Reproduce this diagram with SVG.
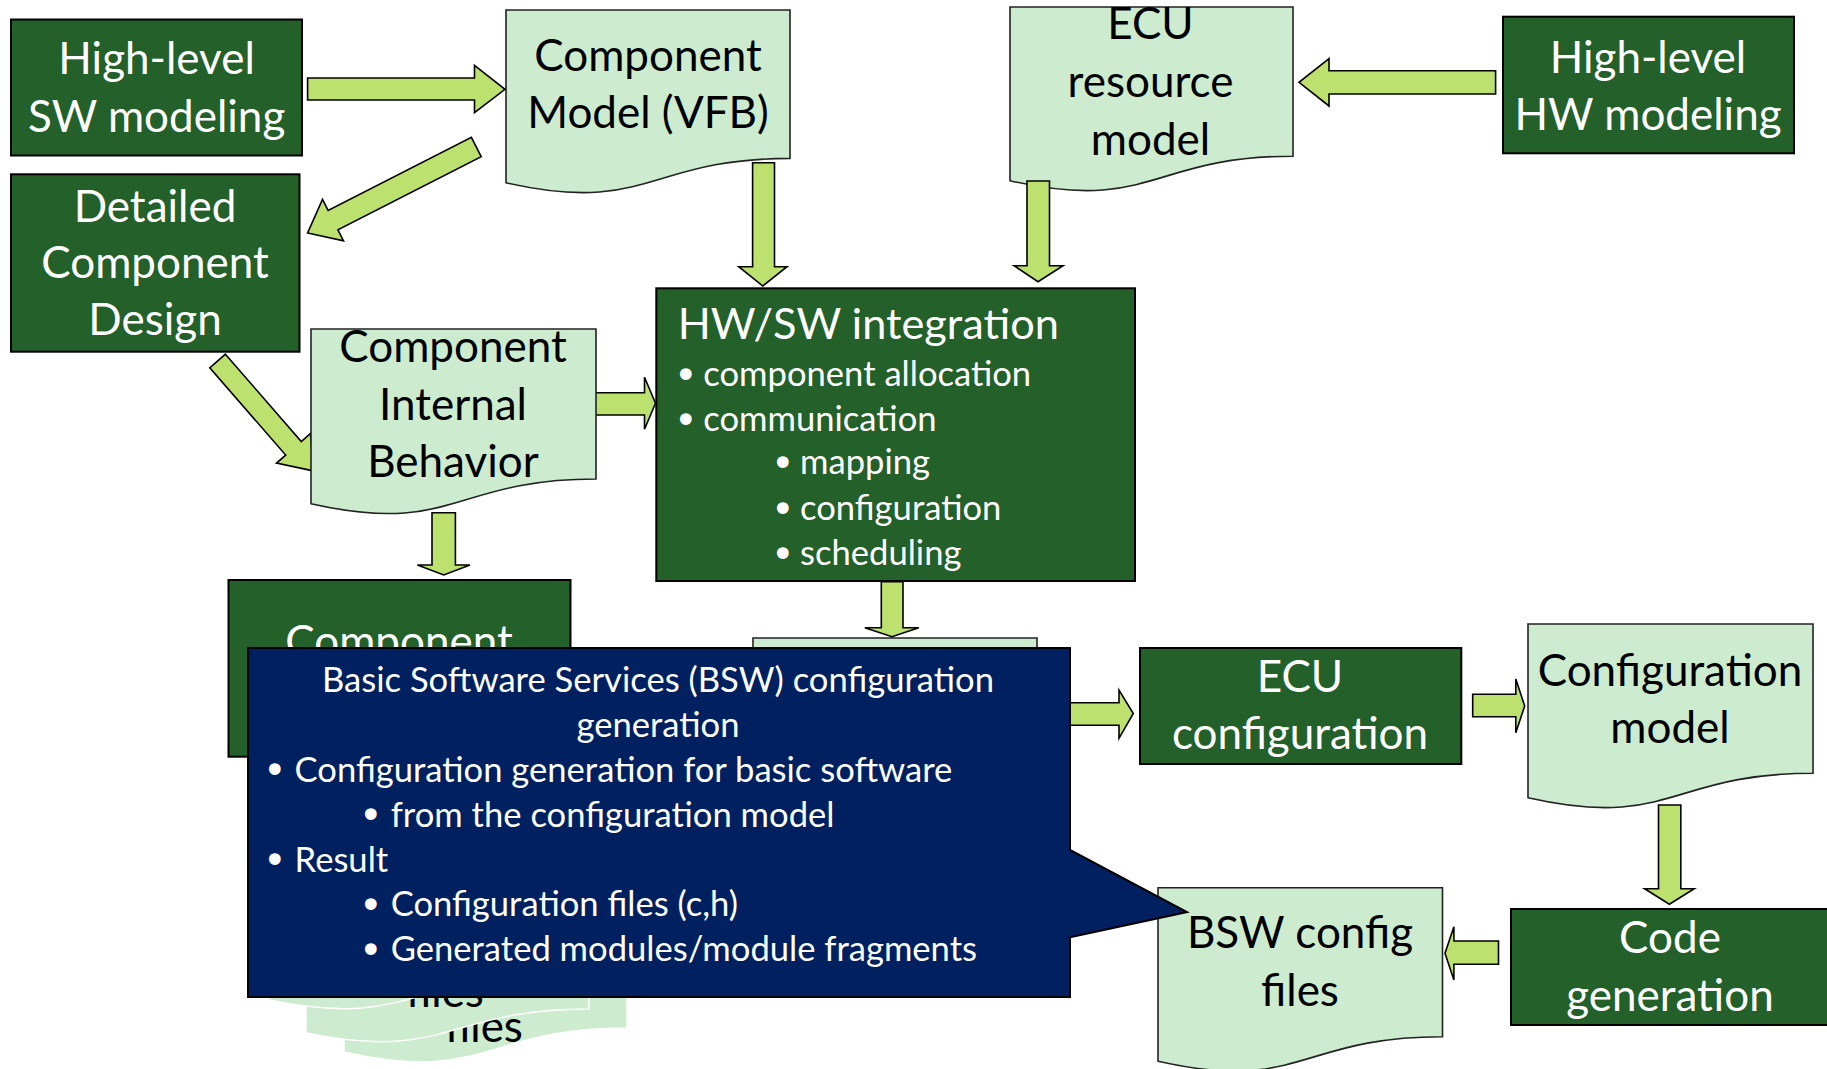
<svg xmlns="http://www.w3.org/2000/svg" width="1827" height="1069" viewBox="0 0 1827 1069">
<style>
.box{fill:#24602a;stroke:#000;stroke-width:2}
.doc{fill:#cdebcf;stroke:#222;stroke-width:1.6}
.sdoc{fill:#cdebcf;stroke:#fff;stroke-width:1.5}
.arr{fill:#bce16f;stroke:#000;stroke-width:1.6;stroke-linejoin:miter}
.call{fill:#002060;stroke:#000;stroke-width:2}
text{font-family:Lato,"Noto Sans",sans-serif}
.wt{fill:#fff;font-size:44px;text-anchor:middle}
.bt{fill:#000;font-size:44px;text-anchor:middle}
.ws{fill:#fff;font-size:34.6px}
.wc{fill:#fff;font-size:34.6px;text-anchor:middle}
.bu{fill:#fff;font-size:40px;font-family:"DejaVu Sans",sans-serif}
</style>
<rect width="1827" height="1069" fill="#fff"/>

<g id="hl-sw">
<rect class="box" x="11" y="19.5" width="291" height="136"/>
<text class="wt" x="156.6" y="74">High-level</text>
<text class="wt" x="156.6" y="131.7">SW modeling</text>
</g>

<g id="component-model">
<path class="doc" d="M506,10 H790 V158.4 C648,158.4 648,214.9 506,182.8 Z"/>
<text class="bt" x="648" y="71">Component</text>
<text class="bt" x="648" y="128">Model (VFB)</text>
</g>

<g id="ecu-resource">
<path class="doc" d="M1010,7 H1293 V156.2 C1151.5,156.2 1151.5,213 1010,180.7 Z"/>
<text class="bt" x="1150.5" y="39.3">ECU</text>
<text class="bt" x="1150.5" y="96.7">resource</text>
<text class="bt" x="1150.5" y="155">model</text>
</g>

<g id="hl-hw">
<rect class="box" x="1503" y="16.7" width="291" height="136.6"/>
<text class="wt" x="1648" y="72.7">High-level</text>
<text class="wt" x="1648" y="130">HW modeling</text>
</g>

<g id="detailed-design">
<rect class="box" x="11" y="174.3" width="288.5" height="177.4"/>
<text class="wt" x="155" y="221.7">Detailed</text>
<text class="wt" x="155" y="278.3">Component</text>
<text class="wt" x="155" y="335">Design</text>
</g>

<g id="hwsw-integration">
<rect class="box" x="656.3" y="288.3" width="478.7" height="292.7"/>
<text class="ws" x="677.7" y="339.3" style="font-size:43.3px">HW/SW integration</text>
<text class="bu" x="674" y="388.5">•</text><text class="ws" x="703.3" y="386">component allocation</text>
<text class="bu" x="674" y="433.5">•</text><text class="ws" x="703.3" y="431">communication</text>
<text class="bu" x="771" y="476.8">•</text><text class="ws" x="800" y="474.3">mapping</text>
<text class="bu" x="771" y="522.5">•</text><text class="ws" x="800" y="520">configuration</text>
<text class="bu" x="771" y="567.5">•</text><text class="ws" x="800" y="565">scheduling</text>
</g>

<g id="component-impl">
<rect class="box" x="228.5" y="580" width="342" height="176.7"/>
<text class="wt" x="399" y="657">Component</text>
</g>

<g id="bsw-doc">
<path class="doc" d="M753,638 H1037 V787 C895,787 895,844 753,812 Z"/>
</g>

<g id="ecu-config">
<rect class="box" x="1140" y="648" width="321.3" height="116"/>
<text class="wt" x="1300" y="691.7">ECU</text>
<text class="wt" x="1300" y="749.3">configuration</text>
</g>

<g id="config-model">
<path class="doc" d="M1528,624 H1813 V773.2 C1670.5,773.2 1670.5,830 1528,797.7 Z"/>
<text class="bt" x="1670" y="686">Configuration</text>
<text class="bt" x="1670" y="742.7">model</text>
</g>

<g id="code-generation">
<rect class="box" x="1511" y="909" width="318" height="116"/>
<text class="wt" x="1670" y="953.3">Code</text>
<text class="wt" x="1670" y="1010.7">generation</text>
</g>

<g id="bsw-config-files">
<path class="doc" d="M1158,887.7 H1442.5 V1036.7 C1300,1036.7 1300,1093.4 1158,1061.2 Z"/>
<text class="bt" x="1300" y="948.3">BSW config</text>
<text class="bt" x="1300" y="1006">files</text>
</g>

<g id="connectors">
<polygon class="arr" points="307.6,78 474.5,78 474.5,65.3 505,89.3 474.5,112.7 474.5,100 307.6,100"/>
<polygon class="arr" points="471.4,137.3 481.2,156.7 337.9,229.8 343.5,240.8 307.6,233 322.5,199.4 328.1,210.4"/>
<polygon class="arr" points="752.6,162.7 774.5,162.7 774.5,266.7 787,266.7 762.8,286 738.8,266.7 752.6,266.7"/>
<polygon class="arr" points="1027,181 1049.5,181 1049.5,265.7 1063,265.7 1038,281.7 1014,265.7 1027,265.7"/>
<polygon class="arr" points="1495.6,70.7 1329,70.7 1329,58.7 1299,82.3 1329,106 1329,94 1495.6,94"/>
<polygon class="arr" points="225.4,354.2 301.3,441.5 310.5,433.5 313.2,470.9 276.5,463.1 285.7,455.1 209.8,367.8"/>
<polygon class="arr" points="595,392.7 644.5,392.7 644.5,377.3 655.5,403.3 644.5,429.3 644.5,415 595,415"/>
<polygon class="arr" points="432,512.7 455.4,512.7 455.4,565 470,565 443.75,575 417.4,565 432,565"/>
<polygon class="arr" points="881.3,581.7 903,581.7 903,627.7 918.8,627.7 892,636.7 864.8,627.7 881.3,627.7"/>
<polygon class="arr" points="1060,702.7 1119,702.7 1119,690 1133.3,713.5 1119,738.3 1119,725.3 1060,725.3"/>
<polygon class="arr" points="1472.7,694.3 1515.8,694.3 1515.8,679 1524.7,706 1515.8,732.7 1515.8,716.7 1472.7,716.7"/>
<polygon class="arr" points="1658.5,805 1680.8,805 1680.8,888.7 1694.2,888.7 1669.4,904.3 1644.6,888.7 1658.5,888.7"/>
<polygon class="arr" points="1498.5,941 1453.9,941 1453.9,926.7 1445,953.3 1453.9,980 1453.9,964.3 1498.5,964.3"/>
</g>

<g id="component-internal-behavior">
<path class="doc" d="M311,329 H596 V479 C453.5,479 453.5,536 311,503.7 Z"/>
<text class="bt" x="453" y="361.7">Component</text>
<text class="bt" x="453" y="420">Internal</text>
<text class="bt" x="453" y="476.7">Behavior</text>
</g>

<g id="component-files">
<path class="sdoc" d="M344,880 H627 V1028 C485.5,1028 485.5,1084 344,1052 Z"/>
<text class="bt" x="484" y="1042">files</text>
<path class="sdoc" d="M306,855 H589 V1009 C447.5,1009 447.5,1062 306,1033 Z"/>
<text class="bt" x="445" y="1007">files</text>
<path class="sdoc" d="M269,822 H552 V976 C410.5,976 410.5,1029 269,1000 Z"/>
</g>

<g id="bsw-callout">
<path class="call" d="M248,648 H1070 V850 L1187,912 L1070,937.3 V997 H248 Z"/>
<text class="wc" x="658" y="691.7">Basic Software Services (BSW) configuration</text>
<text class="wc" x="658" y="736.7">generation</text>
<text class="bu" x="263" y="784.2">•</text><text class="ws" x="294.6" y="781.7">Configuration generation for basic software</text>
<text class="bu" x="359" y="829.2">•</text><text class="ws" x="390.7" y="826.7">from the configuration model</text>
<text class="bu" x="263" y="874.2">•</text><text class="ws" x="294.6" y="871.7">Result</text>
<text class="bu" x="359" y="918.5">•</text><text class="ws" x="390.7" y="916">Configuration files (c,h)</text>
<text class="bu" x="359" y="963.5">•</text><text class="ws" x="390.7" y="963.5" dy="-2.5">Generated modules/module fragments</text>
</g>
</svg>
